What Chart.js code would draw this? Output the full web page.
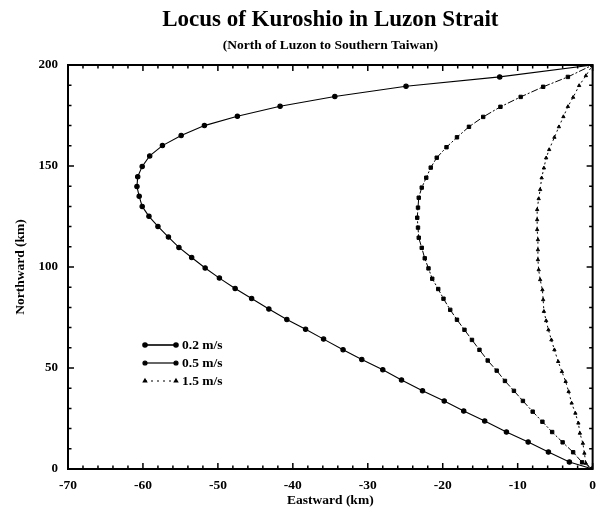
<!DOCTYPE html>
<html>
<head>
<meta charset="utf-8">
<script src="https://cdn.jsdelivr.net/npm/chart.js@4.4.1/dist/chart.umd.min.js"></script>
<style>
  html, body { margin: 0; padding: 0; background: #fff; }
  #wrap { width: 604px; height: 512px; position: relative; }
</style>
</head>
<body>
<div id="wrap"><canvas id="c" width="604" height="512"></canvas></div>
<script>
// ---- Data ----
const titleText = "Locus of Kuroshio in Luzon Strait";
const subtitleText = "(North of Luzon to Southern Taiwan)";
const xAxisTitle = "Eastward (km)";
const yAxisTitle = "Northward (km)";
const seriesLabels = ["0.2 m/s", "0.5 m/s", "1.5 m/s"];

const east02 = [0, -3.1, -5.9, -8.6, -11.5, -14.4, -17.2, -19.8, -22.7, -25.5, -28.0, -30.8, -33.3, -35.9, -38.3, -40.8, -43.2, -45.5, -47.7, -49.8, -51.7, -53.5, -55.2, -56.6, -58.0, -59.2, -60.1, -60.5, -60.8, -60.7, -60.1, -59.1, -57.4, -54.9, -51.8, -47.4, -41.7, -34.4, -24.9, -12.4, 0];
const north02 = [0, 3.5, 8.4, 13.4, 18.3, 23.8, 28.7, 33.7, 38.7, 44.1, 49.1, 54.2, 59.0, 64.3, 69.2, 74.0, 79.2, 84.4, 89.4, 94.5, 99.5, 104.7, 109.7, 114.8, 120.1, 125.1, 130.0, 135.0, 139.8, 144.7, 149.8, 155.0, 160.1, 165.1, 170.0, 174.6, 179.6, 184.4, 189.5, 194.1, 200];

const east05 = [0, -1.4, -2.6, -4.0, -5.4, -6.7, -8.0, -9.3, -10.5, -11.7, -12.8, -14.0, -15.1, -16.1, -17.1, -18.1, -19.0, -19.9, -20.6, -21.4, -21.9, -22.4, -22.8, -23.2, -23.3, -23.4, -23.3, -23.2, -22.8, -22.2, -21.6, -20.8, -19.5, -18.1, -16.5, -14.6, -12.3, -9.6, -6.6, -3.3, 0];
const north05 = [0, 3.3, 8.3, 13.2, 18.3, 23.4, 28.4, 33.7, 38.7, 43.6, 48.7, 53.7, 59.0, 63.9, 68.9, 73.9, 78.8, 84.3, 89.1, 94.2, 99.3, 104.3, 109.5, 114.5, 119.5, 124.4, 129.4, 134.3, 139.3, 144.2, 149.2, 154.1, 159.3, 164.2, 169.4, 174.3, 179.3, 184.2, 189.2, 194.1, 200];

const east15 = [0, -0.9, -1.1, -1.3, -1.7, -1.9, -2.3, -2.8, -3.2, -3.6, -4.1, -4.6, -5.1, -5.5, -5.9, -6.2, -6.5, -6.6, -6.7, -7.0, -7.2, -7.3, -7.3, -7.3, -7.4, -7.4, -7.4, -7.2, -7.0, -6.8, -6.5, -6.2, -5.8, -5.1, -4.5, -3.9, -3.3, -2.6, -1.8, -0.9, 0];
const north15 = [0, 2.8, 7.8, 12.7, 17.7, 22.7, 27.6, 32.6, 38.3, 43.3, 48.2, 53.2, 59.0, 63.9, 68.9, 73.4, 78.0, 83.8, 88.7, 93.7, 98.6, 103.6, 108.5, 113.5, 118.5, 123.4, 128.4, 133.8, 138.3, 144.1, 149.0, 154.0, 158.1, 164.2, 169.4, 174.4, 179.4, 184.0, 189.8, 194.7, 200];

const xTicks = [-70, -60, -50, -40, -30, -20, -10, 0];
const yTicks = [0, 50, 100, 150, 200];

// ---- Build ----
const SERIF = "'Liberation Serif', 'DejaVu Serif', serif";
const pts = (xs, ys) => xs.map((x, i) => ({ x: x, y: ys[i] }));

const datasets = [
  { label: seriesLabels[0], data: pts(east02, north02), borderColor: '#000', backgroundColor: '#000',
    borderWidth: 1.1, pointStyle: 'circle', pointRadius: 2.2, showLine: true, legendDash: [] },
  { label: seriesLabels[1], data: pts(east05, north05), borderColor: '#000', backgroundColor: '#000',
    borderWidth: 1, borderDash: [7, 2, 2, 2], pointStyle: 'rect', pointRadius: 2.4, showLine: true, legendDash: [] },
  { label: seriesLabels[2], data: pts(east15, north15), borderColor: '#000', backgroundColor: '#000',
    borderWidth: 1, borderDash: [2, 3], pointStyle: 'triangle', pointRadius: 1.9, showLine: true, legendDash: [2, 4] }
];

const framePlugin = {
  id: 'frameTicks',
  afterDatasetsDraw(chart) {
    const { ctx, chartArea: a, scales } = chart;
    const xs = scales.x, ys = scales.y;
    ctx.save();
    ctx.strokeStyle = '#000';
    ctx.lineWidth = 1.5;
    for (let v = -70; v <= 0; v += 2) {
      const px = xs.getPixelForValue(v);
      const len = (v % 10 === 0) ? 6 : 3.5;
      ctx.beginPath();
      ctx.moveTo(px, a.bottom); ctx.lineTo(px, a.bottom - len);
      ctx.moveTo(px, a.top); ctx.lineTo(px, a.top + len);
      ctx.stroke();
    }
    for (let v = 0; v <= 200; v += 10) {
      const py = ys.getPixelForValue(v);
      const len = (v % 50 === 0) ? 6 : 3.5;
      ctx.beginPath();
      ctx.moveTo(a.left, py); ctx.lineTo(a.left + len, py);
      ctx.moveTo(a.right, py); ctx.lineTo(a.right - len, py);
      ctx.stroke();
    }
    ctx.lineWidth = 2;
    ctx.strokeRect(a.left, a.top, a.right - a.left, a.bottom - a.top);
    ctx.restore();
  }
};

const titlePlugin = {
  id: 'centeredTitles',
  afterDraw(chart) {
    const { ctx, chartArea: a } = chart;
    const cx = (a.left + a.right) / 2;
    ctx.save();
    ctx.fillStyle = '#000';
    ctx.textAlign = 'center';
    ctx.textBaseline = 'middle';
    ctx.font = "bold 23px " + SERIF;
    ctx.fillText(titleText, cx, 20);
    ctx.font = "bold 13.5px " + SERIF;
    ctx.fillText(subtitleText, cx, 46);
    ctx.restore();
  }
};

const legendPlugin = {
  id: 'innerLegend',
  afterDraw(chart) {
    const { ctx } = chart;
    const x0 = 145, x1 = 176, tx = 182;
    const rows = [345, 363, 381];
    ctx.save();
    chart.data.datasets.forEach((ds, i) => {
      const y = rows[i];
      ctx.strokeStyle = '#000';
      ctx.fillStyle = '#000';
      ctx.lineWidth = i === 0 ? 1.6 : 1.2;
      ctx.setLineDash(ds.legendDash);
      ctx.beginPath(); ctx.moveTo(x0, y); ctx.lineTo(x1, y); ctx.stroke();
      ctx.setLineDash([]);
      const style = i === 2 ? 'triangle' : 'circle';
      Chart.helpers.drawPoint(ctx, { pointStyle: style, radius: 2, rotation: 0, borderWidth: 1 }, x0, y);
      Chart.helpers.drawPoint(ctx, { pointStyle: style, radius: 2, rotation: 0, borderWidth: 1 }, x1, y);
      ctx.font = "bold 13.5px " + SERIF;
      ctx.textAlign = 'left';
      ctx.textBaseline = 'middle';
      ctx.fillText(ds.label, tx, y + 1);
    });
    ctx.restore();
  }
};

new Chart(document.getElementById('c'), {
  type: 'scatter',
  data: { datasets: datasets },
  options: {
    responsive: false,
    animation: false,
    devicePixelRatio: 1,
    layout: { padding: { left: 0, right: 7, top: 65, bottom: 0 } },
    plugins: { legend: { display: false }, title: { display: false }, tooltip: { enabled: false } },
    elements: { line: { tension: 0 } },
    scales: {
      x: {
        type: 'linear', min: -70, max: 0,
        afterBuildTicks: (s) => { s.ticks = xTicks.map(v => ({ value: v })); },
        afterFit: (s) => { s.height = 43; },
        grid: { display: false, drawTicks: false },
        border: { display: false },
        ticks: { color: '#000', padding: 8, font: { family: SERIF, size: 13.5, weight: 'bold' } },
        title: { display: true, text: xAxisTitle, color: '#000', padding: { top: 0, bottom: 3 },
                 font: { family: SERIF, size: 13.5, weight: 'bold' } }
      },
      y: {
        type: 'linear', min: 0, max: 200,
        afterBuildTicks: (s) => { s.ticks = yTicks.map(v => ({ value: v })); },
        afterFit: (s) => { s.width = 68; },
        grid: { display: false, drawTicks: false },
        border: { display: false },
        ticks: { color: '#000', padding: 10, font: { family: SERIF, size: 13, weight: 'bold' } },
        title: { display: true, text: yAxisTitle, color: '#000', padding: { top: 12, bottom: 0 },
                 font: { family: SERIF, size: 13.5, weight: 'bold' } }
      }
    }
  },
  plugins: [framePlugin, titlePlugin, legendPlugin]
});
</script>
</body>
</html>
